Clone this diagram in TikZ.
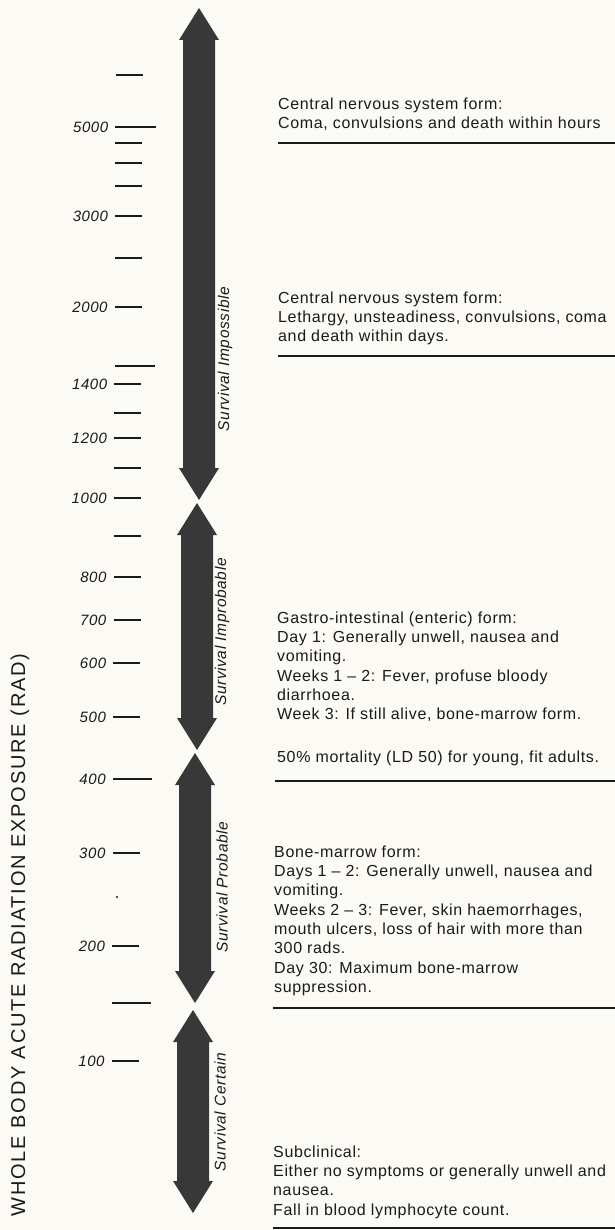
\documentclass[tikz,border=0pt]{standalone}
\usepackage{fontspec}
\setmainfont{Liberation Sans}
\newfontfamily\formfont[LetterSpace=4]{Liberation Sans}
\newfontfamily\axisfont[LetterSpace=9]{Liberation Sans}
\definecolor{paper}{HTML}{FBFAF5}
\definecolor{ink}{HTML}{1A1A1A}
\definecolor{band}{HTML}{383838}
\tikzset{
	tick/.style={line width=1.7pt, color=ink},
	rule/.style={line width=1.8pt, color=ink},
	dose/.style={font=\formfont\itshape\fontsize{15}{15}\selectfont, anchor=east, inner sep=0pt, text=ink},
	zone/.style={font=\formfont\itshape\fontsize{15.5}{15.5}\selectfont, rotate=90, inner sep=0pt, text=ink},
	form/.style={font=\formfont\fontsize{16}{19.3}\selectfont, align=left, anchor=north west, inner sep=0pt, text=ink},
	axis/.style={font=\axisfont\fontsize{20}{20}\selectfont, rotate=90, inner sep=0pt, text=ink},
}
\begin{document}
\begin{tikzpicture}[x=1pt,y=-1pt]
	\useasboundingbox (0,0) rectangle (615,1230);
	\fill[paper] (0,0) rectangle (615,1230);
	% survival arrows
	\foreach \x/\ya/\yb in {199/8/500, 197/503/750, 195/753/1003, 193/1010/1213}
		\fill[band] (\x,\ya) -- (\x+20,\ya+32) -- (\x+16,\ya+32) -- (\x+16,\yb-32) -- (\x+20,\yb-32) -- (\x,\yb) -- (\x-20,\yb-32) -- (\x-16,\yb-32) -- (\x-16,\ya+32) -- (\x-20,\ya+32) -- cycle;
	% dose scale
	\foreach \y/\len in {75/27, 127/41, 143/27, 163/27, 186/27, 216/27, 258/27, 307/27, 366/40, 384/27, 413/27, 438/27, 468/27, 498/27, 536/27, 577/27, 620/27, 663/27, 717/27, 779/39, 853/27, 946/27, 1003/39, 1061/27}{
		\pgfmathsetmacro\dx{-0.004*\y}
		\draw[tick] (116+\dx,\y) -- ++(\len,0);
	}
	\foreach \y/\val in {127/5000, 216/3000, 307/2000, 384/1400, 438/1200, 498/1000, 577/800, 620/700, 663/600, 717/500, 779/400, 853/300, 946/200, 1061/100}{
		\pgfmathsetmacro\dx{-0.004*\y}
		\node[dose] (d\val) at (109+\dx,\y) {\val};
	}
	\fill[ink] (117,897) circle (1.2pt);
	\node[axis] (exposure) at (20,935) {WHOLE BODY ACUTE RADIATION EXPOSURE (RAD)};
	% arrow labels
	\node[zone] (impossible) at (225,359) {Survival Impossible};
	\node[zone] (improbable) at (222,632) {Survival Improbable};
	\node[zone] (probable) at (222,887) {Survival Probable};
	\node[zone] (certain) at (220,1112) {Survival Certain};
	% forms
	\node[form] (cnshours) at (278,97.5) {Central nervous system form:\\Coma, convulsions and death within hours};
	\node[form] (cnsdays) at (278,291.5) {Central nervous system form:\\Lethargy, unsteadiness, convulsions, coma\\and death within days.};
	\node[form] (gastro) at (277,611.5) {Gastro-intestinal (enteric) form:\\Day 1: Generally unwell, nausea and\\vomiting.\\Weeks 1 \textendash\ 2: Fever, profuse bloody\\diarrhoea.\\Week 3: If still alive, bone-marrow form.\\[23pt]50\% mortality (LD 50) for young, fit adults.};
	\node[form] (marrow) at (274,845.5) {Bone-marrow form:\\Days 1 \textendash\ 2: Generally unwell, nausea and\\vomiting.\\Weeks 2 \textendash\ 3: Fever, skin haemorrhages,\\mouth ulcers, loss of hair with more than\\300 rads.\\Day 30: Maximum bone-marrow\\suppression.};
	\node[form] (subclinical) at (273,1145.5) {Subclinical:\\Either no symptoms or generally unwell and\\nausea.\\Fall in blood lymphocyte count.};
	\draw[rule] (278,143) -- (615,143);
	\draw[rule] (278,356) -- (615,356);
	\draw[rule] (275,781) -- (615,781);
	\draw[rule] (273,1008) -- (615,1008);
	\draw[rule] (273,1228) -- (615,1228);
\end{tikzpicture}
\end{document}
